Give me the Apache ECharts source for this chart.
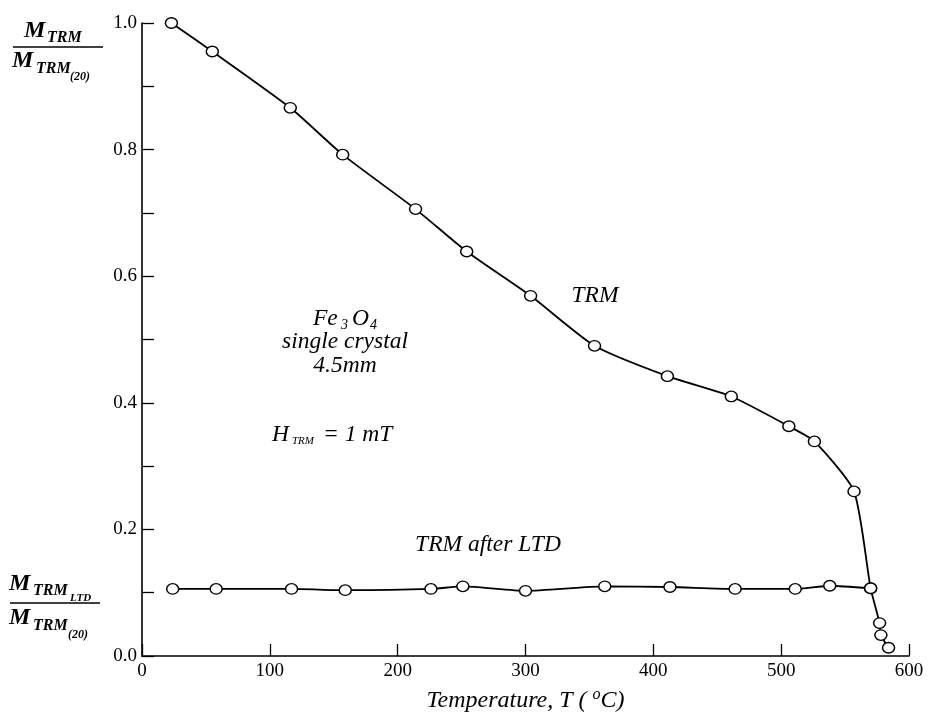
<!DOCTYPE html>
<html>
<head>
<meta charset="utf-8">
<script src="https://cdn.jsdelivr.net/npm/echarts@6/dist/echarts.min.js"></script>
<style>
html,body{margin:0;padding:0;background:#fff;}
#chart{width:928px;height:720px;}
</style>
</head>
<body>
<div id="chart"></div>
<script>
// Temperature (°C) and normalized TRM values
const trmT = [23, 55, 116, 157, 214, 254, 304, 354, 411, 461, 506, 526, 557, 570, 577, 578, 584];
const trmM = [1.0, 0.955, 0.866, 0.792, 0.706, 0.639, 0.569, 0.490, 0.442, 0.410, 0.363, 0.339, 0.260, 0.107, 0.052, 0.033, 0.013];
const ltdT = [24, 58, 117, 159, 226, 251, 300, 362, 413, 464, 511, 538, 570];
const ltdM = [0.106, 0.106, 0.106, 0.104, 0.106, 0.110, 0.103, 0.110, 0.109, 0.106, 0.106, 0.111, 0.107];
const xTicks = [0, 100, 200, 300, 400, 500, 600];
const yTickLabels = ['0.0', '0.2', '0.4', '0.6', '0.8', '1.0'];

const SERIF = '"Liberation Serif", "DejaVu Serif", serif';
const chart = echarts.init(document.getElementById('chart'));

function txt(text, x, y, size, opts) {
  opts = opts || {};
  return {
    type: 'text', x: x, y: y, silent: true,
    style: {
      text: text,
      font: (opts.italic === false ? '' : 'italic ') + (opts.bold ? 'bold ' : '') + size + 'px ' + SERIF,
      fill: '#000',
      textAlign: opts.align || 'left', align: opts.align || 'left',
      textVerticalAlign: 'middle', verticalAlign: 'middle'
    }
  };
}
function hline(x1, x2, y) {
  return { type: 'line', silent: true, shape: { x1: x1, y1: y, x2: x2, y2: y }, style: { stroke: '#000', lineWidth: 1.6 } };
}

const graphics = [
  // top y-axis title fraction
  txt('M', 24, 31, 24, { bold: true }),
  txt('TRM', 47, 38, 16, { bold: true }),
  hline(13, 103, 47),
  txt('M', 12, 61, 24, { bold: true }),
  txt('TRM', 36, 69, 16, { bold: true }),
  txt('(20)', 70, 77, 12, { bold: true }),
  // lower fraction
  txt('M', 9, 584, 24, { bold: true }),
  txt('TRM', 33, 591, 16, { bold: true }),
  txt('LTD', 70, 598, 11, { bold: true }),
  hline(10, 100, 603),
  txt('M', 9, 618, 24, { bold: true }),
  txt('TRM', 33, 626, 16, { bold: true }),
  txt('(20)', 68, 635, 12, { bold: true }),
  // annotations
  txt('TRM', 595, 296, 23.5, { align: 'center' }),
  txt('Fe', 313, 319, 23.5),
  txt('3', 341, 325, 14),
  txt('O', 352, 319, 23.5),
  txt('4', 370, 325, 14),
  txt('single crystal', 345, 342, 23.5, { align: 'center' }),
  txt('4.5mm', 345, 366, 23.5, { align: 'center' }),
  txt('H', 272, 435, 23.5),
  txt('TRM', 292, 441, 11),
  txt('= 1 mT', 323, 435, 23.5),
  txt('TRM after LTD', 488, 545, 23.5, { align: 'center' })
];

const option = {
  backgroundColor: '#fff',
  animation: false,
  grid: { left: 142, right: 19, top: 23, bottom: 58, containLabel: false },
  xAxis: {
    type: 'value', min: xTicks[0], max: xTicks[xTicks.length - 1], interval: 100,
    axisLine: { onZero: false, lineStyle: { color: '#000', width: 1.6 } },
    axisTick: { inside: true, length: 12, lineStyle: { color: '#000', width: 1.3 } },
    axisLabel: { color: '#000', fontFamily: SERIF, fontSize: 19, margin: 6 },
    splitLine: { show: false },
    name: 'Temperature, T ( {sup|o}C)',
    nameLocation: 'middle', nameGap: 31,
    nameTextStyle: {
      color: '#000', fontFamily: SERIF, fontStyle: 'italic', fontSize: 24, lineHeight: 28,
      rich: { sup: { fontFamily: SERIF, fontStyle: 'italic', fontSize: 16, verticalAlign: 'top', lineHeight: 28, color: '#000' } }
    }
  },
  yAxis: {
    type: 'value', min: 0, max: 1, interval: 0.1,
    axisLine: { lineStyle: { color: '#000', width: 1.6 } },
    axisTick: { inside: true, length: 12, lineStyle: { color: '#000', width: 1.3 } },
    axisLabel: {
      color: '#000', fontFamily: SERIF, fontSize: 19, margin: 5,
      formatter: function (v) {
        const k = Math.round(v * 10);
        return k % 2 === 0 ? yTickLabels[k / 2] : '';
      }
    },
    splitLine: { show: false }
  },
  series: [
    {
      name: 'TRM', type: 'line', smooth: 0.2,
      data: trmT.map((t, i) => [t, trmM[i]]),
      symbol: 'circle', symbolSize: [12, 10.5],
      itemStyle: { color: '#fff', borderColor: '#000', borderWidth: 1.4 },
      lineStyle: { color: '#000', width: 1.8 },
      z: 3
    },
    {
      name: 'TRM after LTD', type: 'line', smooth: 0.2,
      data: ltdT.map((t, i) => [t, ltdM[i]]),
      symbol: 'circle', symbolSize: [12, 10.5],
      itemStyle: { color: '#fff', borderColor: '#000', borderWidth: 1.4 },
      lineStyle: { color: '#000', width: 1.8 },
      z: 2
    }
  ],
  graphic: graphics
};
chart.setOption(option);
</script>
</body>
</html>
